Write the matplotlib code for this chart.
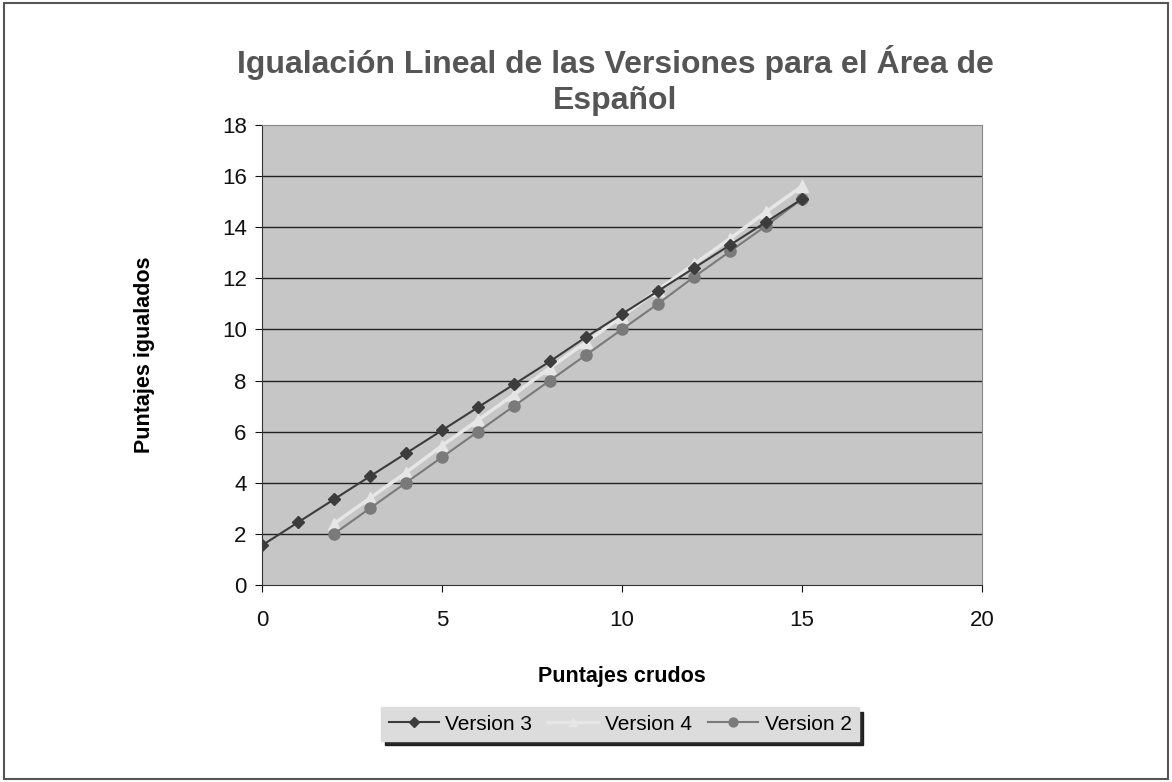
import matplotlib
matplotlib.use("Agg")
import matplotlib.pyplot as plt
from matplotlib.patches import Rectangle

plt.rcParams['font.family'] = ['Liberation Sans', 'DejaVu Sans']

# datos
x_v3 = list(range(0, 16))
y_v3 = [1.55, 2.45, 3.35, 4.25, 5.15, 6.05, 6.95, 7.85, 8.75, 9.7,
        10.6, 11.5, 12.4, 13.3, 14.2, 15.1]
x_v4 = list(range(2, 16))
y_v4 = [2.4, 3.4, 4.4, 5.45, 6.45, 7.45, 8.5, 9.5, 10.5, 11.55,
        12.55, 13.55, 14.6, 15.6]
x_v2 = list(range(2, 16))
y_v2 = [2.0, 3.0, 4.0, 5.0, 6.0, 7.0, 8.0, 9.0, 10.0, 11.0,
        12.05, 13.05, 14.05, 15.1]
x_ticks = [0, 5, 10, 15, 20]
y_ticks = [0, 2, 4, 6, 8, 10, 12, 14, 16, 18]

fig = plt.figure(figsize=(11.72, 7.82), dpi=100, facecolor='white')
fig.patches.append(Rectangle((0.003, 0.004), 0.994, 0.992, transform=fig.transFigure,
                             fill=False, edgecolor='#555555', linewidth=1.5))

ax = fig.add_axes([0.2235, 0.2519, 0.6143, 0.5883])
ax.set_facecolor('#c6c6c6')
for yv in y_ticks[1:-1]:
    ax.axhline(yv, color='#222222', linewidth=1.0, zorder=1)

ax.plot(x_v3, y_v3, color='#3c3c3c', marker='D', markersize=6, linewidth=1.5,
        label='Version 3', zorder=4)
ax.plot(x_v4, y_v4, color='#e6e6e6', marker='^', markersize=8, linewidth=2.5,
        label='Version 4', zorder=3)
ax.plot(x_v2, y_v2, color='#7a7a7a', marker='o', markersize=8, linewidth=1.5,
        label='Version 2', zorder=3)

ax.set_xlim(0, 20)
ax.set_ylim(0, 18)
ax.set_xticks(x_ticks)
ax.set_yticks(y_ticks)
ax.tick_params(labelsize=16, colors='#111111', length=5, direction='out')
ax.tick_params(axis='x', pad=13)
ax.tick_params(axis='y', pad=6)
for s in ax.spines.values():
    s.set_color('#333333')
ax.spines['top'].set_color('#888888')
ax.spines['right'].set_color('#888888')

ax.set_xlabel('Puntajes crudos', fontsize=15.5, fontweight='bold')
ax.set_ylabel('Puntajes igualados', fontsize=15.5, fontweight='bold')
ax.xaxis.set_label_coords(0.5, -0.198)
ax.xaxis.label.set_va('center')
ax.yaxis.set_label_coords(-0.1625, 0.5)
ax.yaxis.label.set_va('center')

fig.text(0.525, 0.897, 'Igualación Lineal de las Versiones para el Área de\nEspañol',
         ha='center', va='center', fontsize=23, fontweight='bold', color='#555555',
         linespacing=1.25)

leg = fig.legend(loc='center', bbox_to_anchor=(0.529, 0.074), ncol=3, fontsize=15,
                 frameon=True, fancybox=False, markerscale=0.8,
                 shadow={'color': '#111111', 'alpha': 0.9, 'ox': 3, 'oy': -3},
                 handlelength=2.4, columnspacing=0.8, borderpad=0.35, handletextpad=0.3)
leg.get_frame().set_facecolor('#dcdcdc')
leg.get_frame().set_edgecolor('#dcdcdc')

fig.savefig('out.png', dpi=100, facecolor='white')
